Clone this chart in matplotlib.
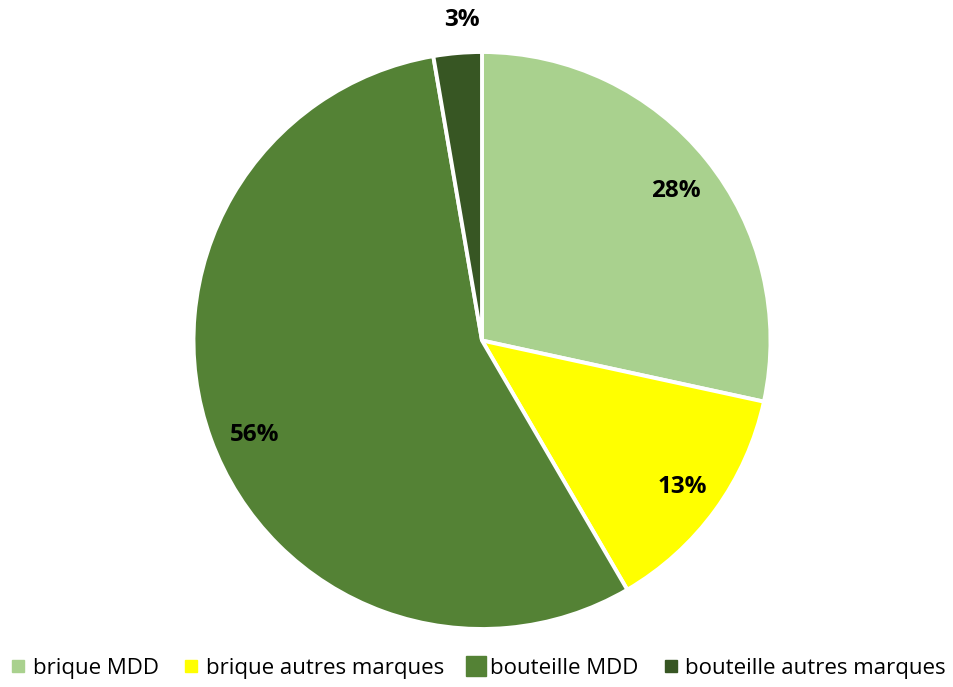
import matplotlib.pyplot as plt
from matplotlib.lines import Line2D

plt.rcParams['font.family'] = ['Open Sans', 'DejaVu Sans']

labels = ['brique MDD', 'brique autres marques', 'bouteille MDD', 'bouteille autres marques']
shares = [28.4, 13.2, 55.7, 2.7]
colors = ['#A9D18E', '#FFFF00', '#548235', '#375623']

W, H = 954, 687
fig = plt.figure(figsize=(W / 100, H / 100), dpi=100)
ax = fig.add_axes([0.0, 0.0, 1.0, 1.0])

wedges, texts, autotexts = ax.pie(
    shares, colors=colors, startangle=90, counterclock=False,
    autopct='%1.0f%%', pctdistance=0.86,
    wedgeprops=dict(edgecolor='white', linewidth=2.8),
    textprops=dict(fontsize=17.5, fontweight='bold', color='black'),
)

# best-fit label spots, the thin slice gets its label outside
label_pos = [(0.673, 0.517), (0.693, -0.508), (-0.789, -0.327), (-0.070, 1.110)]
for t, p in zip(autotexts, label_pos):
    t.set_position(p)

# pixels per data unit, pie centre in pixels (from top-left)
scale = 288.5
cx, cy = 482, 340.5
ax.set_aspect('auto')
ax.set_xlim(-cx / scale, (W - cx) / scale)
ax.set_ylim(-(H - cy) / scale, cy / scale)
ax.axis('off')

handles = [Line2D([0], [0], marker='s', linestyle='none', markersize=ms,
                  markerfacecolor=c, markeredgecolor=c)
           for c, ms in zip(colors, [8, 8, 14, 8])]
fig.legend(handles, labels, loc='center', bbox_to_anchor=(0.502, 0.027),
           ncol=4, frameon=False, fontsize=16, handlelength=0.6,
           handletextpad=0.35, columnspacing=1.15, borderpad=0)

fig.savefig('out.png', dpi=100)
